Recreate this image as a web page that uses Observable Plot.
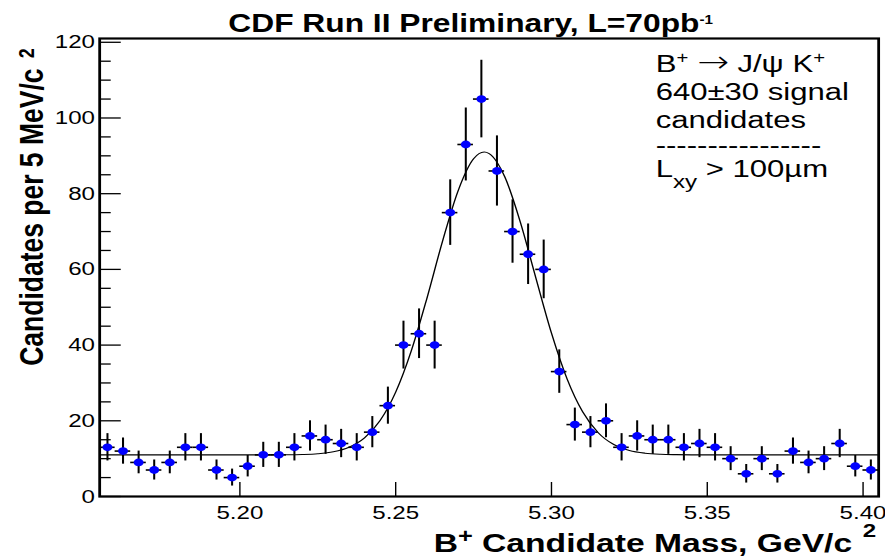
<!DOCTYPE html>
<html>
<head>
<meta charset="utf-8">
<script src="https://cdn.jsdelivr.net/npm/d3@7"></script>
<script src="https://cdn.jsdelivr.net/npm/@observablehq/plot@0.6"></script>
<style>
  html, body { margin: 0; padding: 0; background: #ffffff; }
  #chart { width: 885px; height: 560px; overflow: hidden; }
</style>
</head>
<body>
<div id="chart"></div>
<script>
// ---------------- data ----------------
const massBins = [5.1575,5.1625,5.1675,5.1725,5.1775,5.1825,5.1875,5.1925,5.1975,5.2025,
                  5.2075,5.2125,5.2175,5.2225,5.2275,5.2325,5.2375,5.2425,5.2475,5.2525,
                  5.2575,5.2625,5.2675,5.2725,5.2775,5.2825,5.2875,5.2925,5.2975,5.3025,
                  5.3075,5.3125,5.3175,5.3225,5.3275,5.3325,5.3375,5.3425,5.3475,5.3525,
                  5.3575,5.3625,5.3675,5.3725,5.3775,5.3825,5.3875,5.3925,5.3975,5.4025];
const counts = [13,12,9,7,9,13,13,7,5,8,
                11,11,13,16,15,14,13,17,24,40,
                43,40,75,93,105,86,70,64,60,33,
                19,17,20,13,16,15,15,13,14,13,
                10,6,10,6,12,9,10,14,8,7];
const errors = [3.61,3.46,3.00,2.65,3.00,3.61,3.61,2.65,2.24,2.83,
                3.32,3.32,3.61,4.00,3.87,3.74,3.61,4.12,4.90,6.32,
                6.56,6.32,8.66,9.64,10.25,9.27,8.37,8.00,7.75,5.74,
                4.36,4.12,4.47,3.61,4.00,3.87,3.87,3.61,3.74,3.61,
                3.16,2.45,3.16,2.45,3.46,3.00,3.16,3.74,2.83,2.65];
const binWidth = 0.005;

// fit curve (Gaussian + flat background)
const fitMass  = [5.155,5.200,5.205,5.210,5.215,5.220,5.225,5.230,5.235,5.240,
                  5.245,5.250,5.255,5.260,5.265,5.270,5.275,5.2784,5.280,5.285,
                  5.290,5.295,5.300,5.305,5.310,5.315,5.320,5.325,5.330,5.335,
                  5.340,5.345,5.350,5.405];
const fitValue = [11.0,11.0,11.0,11.01,11.03,11.10,11.30,11.82,13.02,15.49,
                  20.06,27.56,38.46,52.30,67.34,80.70,89.22,91.00,90.60,84.47,
                  72.51,57.70,43.16,31.09,22.38,16.85,13.72,12.15,11.44,11.15,
                  11.05,11.01,11.0,11.0];

const xDomain = [5.155, 5.405];
const yDomain = [0, 121];
const xTicks = [5.20, 5.25, 5.30, 5.35, 5.40];
const yMajorTicks = [0, 20, 40, 60, 80, 100, 120];
const yMinorTicks = [5,10,15,25,30,35,45,50,55,65,70,75,85,90,95,105,110,115];

const titlePlain  = "CDF Run II Preliminary, L=70pb-1";
const xLabelPlain = "B+ Candidate Mass, GeV/c 2";
const yLabelPlain = "Candidates per 5 MeV/c 2";
const legendLines = ["B+ \u2192 J/\u03c8 K+", "640\u00b130 signal", "candidates", "----------------", "Lxy > 100\u00b5m"];

// rich-text pieces (superscripts/subscripts)
const richText = new Map([
  [titlePlain,  [{t: "CDF Run II Preliminary, L=70pb"}, {t: "-1", size: 12, shift: 8.5}]],
  [xLabelPlain, [{t: "B"}, {t: "+", size: 20, shift: 9}, {t: " Candidate Mass, GeV/c "}, {t: "2", size: 19, shift: 15, dx: 1}]],
  [yLabelPlain, [{t: "Candidates per 5 MeV/c "}, {t: "2", size: 18, shift: 7, dx: 3}]],
  [legendLines[0], [{t: "B"}, {t: "+", size: 16, shift: 9.5}, {t: " "}, {t: "\u2192", size: 30, family: "'DejaVu Sans', sans-serif", weight: "200"}, {t: " J/\u03c8 K"}, {t: "+", size: 16, shift: 9.5}]],
  [legendLines[4], [{t: "L"}, {t: "xy", size: 19, shift: -11}, {t: " > 100\u00b5m"}]]
]);

// ---------------- layout ----------------
const OUT_W = 885, H = 560;
const W = 697;                 // drawing width, stretched horizontally to OUT_W
const K = OUT_W / W;
const mL = 78, mR = 5.5, mT = 38, mB = 64;
const plotW = W - mL - mR, plotH = H - mT - mB;
const legendBaselines = [71.7, 99.3, 127.3, 152, 176];

const rows = massBins.map((m, i) => ({mass: m, n: counts[i], err: errors[i]}));
const fit = fitMass.map((m, i) => ({mass: m, v: fitValue[i]}));

const font = "'Liberation Sans', Arial, Helvetica, sans-serif";

const marks = [
  // axis tick labels
  Plot.axisY(yMajorTicks, {tickSize: 0, tickPadding: 3.7, fontSize: 19, label: null}),
  Plot.axisX(xTicks, {tickSize: 0, tickPadding: 9, fontSize: 19, tickFormat: d3.format(".2f"), label: null}),
  // inward ticks
  Plot.ruleY(yMajorTicks, {y: d => d, insetRight: plotW - 17.1, strokeWidth: 1.3}),
  Plot.ruleY(yMinorTicks, {y: d => d, insetRight: plotW - 9.2, strokeWidth: 1.3}),
  Plot.ruleX(xTicks, {x: d => d, insetTop: plotH - 14, strokeWidth: 1.1}),
  // fit curve
  Plot.line(fit, {x: "mass", y: "v", stroke: "black", strokeWidth: 1.1, curve: "monotone-x"}),
  // error bars
  Plot.ruleX(rows, {x: "mass", y1: d => d.n - d.err, y2: d => d.n + d.err, stroke: "black", strokeWidth: 1.6}),
  Plot.ruleY(rows, {y: "n", x1: d => d.mass - binWidth / 2, x2: d => d.mass + binWidth / 2, stroke: "black", strokeWidth: 1.6}),
  // data points
  Plot.dot(rows, {x: "mass", y: "n", r: 3.9, fill: "#0000ff", stroke: "none"}),
  // frame
  Plot.frame({strokeWidth: 2.2}),
  // title
  Plot.text([titlePlain], {text: d => d, frameAnchor: "top-left", textAnchor: "start", lineAnchor: "bottom",
    dx: 227.7 / K - mL, dy: 31.7 - mT, fontSize: 25, fontWeight: "bold"}),
  // x label
  Plot.text([xLabelPlain], {text: d => d, frameAnchor: "bottom-left", textAnchor: "start", lineAnchor: "bottom",
    dx: 433 / K - mL, dy: 551.7 - (H - mB), fontSize: 26.5, fontWeight: "bold"}),
  // y label
  Plot.text([yLabelPlain], {text: d => d, frameAnchor: "left", textAnchor: "middle", lineAnchor: "bottom", rotate: -90,
    dx: 42.7 / K - mL, dy: 206.5 - (mT + plotH / 2), fontSize: 26.5, fontWeight: "bold"}),
  // legend text
  ...legendLines.map((s, i) => Plot.text([s], {text: d => d, frameAnchor: "top-left", textAnchor: "start", lineAnchor: "bottom",
    dx: 655 / K - mL, dy: legendBaselines[i] - mT, fontSize: 24.5}))
];

const svg = Plot.plot({
  width: W,
  height: H,
  marginLeft: mL,
  marginRight: mR,
  marginTop: mT,
  marginBottom: mB,
  x: {domain: xDomain},
  y: {domain: yDomain},
  style: {fontFamily: font, fontSize: "19px", color: "black", background: "white"},
  marks
});

// rich text (superscripts / subscripts)
d3.select(svg).selectAll("text").each(function () {
  const parts = richText.get(this.textContent);
  if (!parts) return;
  const sel = d3.select(this);
  sel.text(null);
  let cur = 0;
  for (const p of parts) {
    const ts = sel.append("tspan").text(p.t);
    const s = p.shift || 0;
    if (s !== cur) { ts.attr("dy", -(s - cur)); cur = s; }
    if (p.size) ts.attr("font-size", p.size);
    if (p.dx) ts.attr("dx", p.dx);
    if (p.family) ts.attr("font-family", p.family);
    if (p.weight) ts.attr("font-weight", p.weight);
  }
});

// stretch horizontally like the reference picture
svg.setAttribute("preserveAspectRatio", "none");
svg.setAttribute("width", OUT_W);
svg.setAttribute("height", H);
svg.style.width = OUT_W + "px";
svg.style.height = H + "px";
svg.style.maxWidth = "none";
document.getElementById("chart").appendChild(svg);
</script>
</body>
</html>
